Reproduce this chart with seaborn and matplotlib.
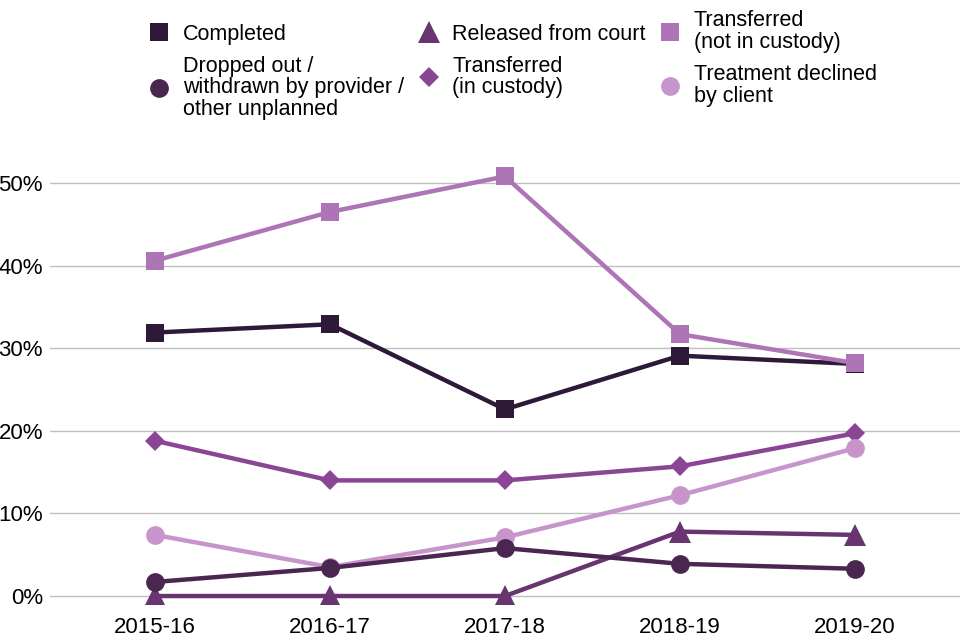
import matplotlib
matplotlib.use("Agg")
import matplotlib.pyplot as plt
from matplotlib.lines import Line2D
from matplotlib.ticker import FuncFormatter
import seaborn as sns
import pandas as pd

years = ["2015-16", "2016-17", "2017-18", "2018-19", "2019-20"]

completed = [31.9, 32.9, 22.6, 29.1, 28.1]
dropped_out = [1.7, 3.4, 5.8, 3.9, 3.3]
released_from_court = [0.0, 0.0, 0.0, 7.8, 7.4]
transferred_in_custody = [18.8, 14.0, 14.0, 15.7, 19.7]
transferred_not_in_custody = [40.6, 46.5, 50.8, 31.7, 28.2]
treatment_declined = [7.4, 3.5, 7.1, 12.2, 17.9]

labels = [
    "Completed",
    "Dropped out /\nwithdrawn by provider /\nother unplanned",
    "Released from court",
    "Transferred\n(in custody)",
    "Transferred\n(not in custody)",
    "Treatment declined\nby client",
]
values = [completed, dropped_out, released_from_court,
          transferred_in_custody, transferred_not_in_custody, treatment_declined]
colors = ["#2e1a38", "#4a2650", "#683571", "#8a4594", "#ad74b6", "#c795cb"]
markers = ["s", "o", "^", "D", "s", "o"]
msizes = [13, 13.5, 16.5, 10.5, 13, 13.5]

draw_order = [2, 3, 5, 1, 0, 4]

sns.set_theme(style="white")
plt.rcParams["font.family"] = ["Liberation Sans", "DejaVu Sans"]
plt.rcParams["text.color"] = "black"
FS = 16
LFS = 15.5

fig = plt.figure(figsize=(9.6, 6.4), dpi=100)
ax = fig.add_axes([0.052, 0.0558, 0.948, 0.684])

for i in draw_order:
    df = pd.DataFrame({"year": years, "value": values[i]})
    sns.lineplot(data=df, x="year", y="value", ax=ax, color=colors[i],
                 marker=markers[i], markersize=msizes[i], markeredgewidth=0,
                 linewidth=3.2, sort=False, legend=False)

ax.set_xlim(-0.6, 4.6)
ax.set_ylim(-1, 52)
ax.set_yticks([0, 10, 20, 30, 40, 50])
ax.yaxis.set_major_formatter(FuncFormatter(lambda v, p: f"{v:.0f}%"))
ax.grid(axis="y", color="#bfbfbf", linewidth=1)
ax.grid(axis="x", visible=False)
for s in ax.spines.values():
    s.set_visible(False)
ax.tick_params(axis="both", length=0, labelsize=FS, colors="black")
ax.tick_params(axis="x", pad=9)
ax.tick_params(axis="y", pad=5)
ax.set_xlabel("")
ax.set_ylabel("")

handles = [Line2D([], [], linestyle="none", marker=markers[i], color=colors[i],
                  markersize=msizes[i], markeredgewidth=0) for i in range(6)]
leg = fig.legend(handles, labels, ncol=3, loc="upper left",
                 bbox_to_anchor=(0.1435, 1.0005), frameon=False, fontsize=LFS,
                 borderpad=0, handlelength=1.0, handletextpad=0.59,
                 columnspacing=0.65, labelspacing=0.5)
for t in leg.get_texts():
    t.set_linespacing(1.05)
    t.set_color("black")

fig.savefig("out.png", dpi=100)
